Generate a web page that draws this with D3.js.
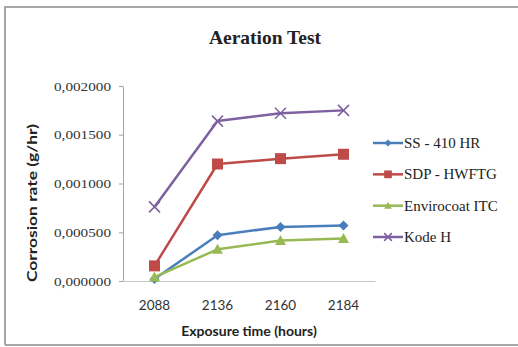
<!DOCTYPE html>
<html>
<head>
<meta charset="utf-8">
<script src="https://cdn.jsdelivr.net/npm/d3@7/dist/d3.min.js"></script>
<style>
  html, body { margin: 0; padding: 0; background: #fff; }
  svg { display: block; }
</style>
</head>
<body>
<svg id="chart" width="518" height="347"></svg>
<script>
// Exposure times (hours)
const categories = ["2088", "2136", "2160", "2184"];
// Corrosion rate (g/hr) per coating
const ssValues = [0.000020, 0.000470, 0.000555, 0.000570];
const sdpValues = [0.000155, 0.001200, 0.001255, 0.001300];
const envValues = [0.000040, 0.000325, 0.000415, 0.000435];
const kodeValues = [0.000760, 0.001640, 0.001720, 0.001750];
const seriesNames = ["SS - 410 HR", "SDP - HWFTG", "Envirocoat ITC", "Kode H"];
const yTicks = [0, 0.0005, 0.001, 0.0015, 0.002];

const series = [
  { name: seriesNames[0], values: ssValues, color: "#4A7EBB", marker: "diamond" },
  { name: seriesNames[1], values: sdpValues, color: "#BE4B48", marker: "square" },
  { name: seriesNames[2], values: envValues, color: "#98B954", marker: "triangle" },
  { name: seriesNames[3], values: kodeValues, color: "#7D60A0", marker: "cross" }
];

const serif = "Liberation Serif, Times New Roman, serif";
const sans = "Lato, Open Sans, sans-serif";

const svg = d3.select("#chart");

// outer frame
svg.append("path")
  .attr("d", "M5,345 L5,7 L518,7 M5,345 L518,345")
  .attr("fill", "none").attr("stroke", "#a6a6a6").attr("stroke-width", 2);

const plot = { left: 123, right: 375, top: 86, bottom: 281 };

const x = d3.scaleBand().domain(categories).range([plot.left, plot.right]);
const y = d3.scaleLinear().domain([0, 0.002]).range([plot.bottom, plot.top]);

// title
svg.append("text")
  .attr("x", 265).attr("y", 44)
  .attr("text-anchor", "middle")
  .attr("font-family", serif)
  .attr("font-weight", "bold").attr("font-size", 19.5)
  .attr("fill", "#222")
  .text("Aeration Test");

// y axis
const fmt = v => d3.format(".6f")(v).replace(".", ",");
const yAxis = svg.append("g")
  .attr("transform", `translate(${plot.left},0)`)
  .call(d3.axisLeft(y).tickValues(yTicks).tickFormat(fmt).tickSize(4).tickSizeOuter(0));
yAxis.select(".domain").attr("stroke", "#a6a6a6");
yAxis.selectAll(".tick line").attr("stroke", "#a6a6a6");
yAxis.selectAll(".tick text")
  .attr("x", -12)
  .attr("font-family", serif)
  .attr("font-size", 12.5).attr("fill", "#333")
  .attr("textLength", 57).attr("lengthAdjust", "spacingAndGlyphs");

// x axis
const xAxis = svg.append("g")
  .attr("transform", `translate(0,${plot.bottom})`)
  .call(d3.axisBottom(x).tickSize(0).tickSizeOuter(0));
xAxis.select(".domain").attr("stroke", "#c8c8c8");
xAxis.selectAll(".tick text")
  .attr("dy", 0).attr("y", 29)
  .attr("font-family", sans)
  .attr("font-size", 13.5).attr("fill", "#333");

// axis titles
svg.append("text")
  .attr("transform", "translate(37,203) rotate(-90)")
  .attr("text-anchor", "middle")
  .attr("font-family", sans)
  .attr("font-weight", "bold").attr("font-size", 14)
  .attr("fill", "#222")
  .attr("textLength", 158).attr("lengthAdjust", "spacingAndGlyphs")
  .text("Corrosion rate (g/hr)");

svg.append("text")
  .attr("x", 249).attr("y", 336)
  .attr("text-anchor", "middle")
  .attr("font-family", sans)
  .attr("font-weight", "bold").attr("font-size", 14)
  .attr("fill", "#222")
  .text("Exposure time (hours)");

function drawMarker(g, type, color, s) {
  if (type === "diamond") {
    g.append("path").attr("d", `M0,${-s} L${s},0 L0,${s} L${-s},0 Z`).attr("fill", color);
  } else if (type === "square") {
    g.append("rect").attr("x", -s).attr("y", -s).attr("width", 2 * s).attr("height", 2 * s).attr("fill", color);
  } else if (type === "triangle") {
    g.append("path").attr("d", `M0,${-s} L${s},${s * 0.8} L${-s},${s * 0.8} Z`).attr("fill", color);
  } else {
    g.append("path").attr("d", `M${-s},${-s} L${s},${s} M${-s},${s} L${s},${-s}`)
      .attr("stroke", color).attr("stroke-width", 1.5);
  }
}

const markerSize = { diamond: 5, square: 5.5, triangle: 5.5, cross: 5.5 };
const line = d3.line()
  .x((d, i) => x(categories[i]) + x.bandwidth() / 2)
  .y(d => y(d));

series.forEach(s => {
  svg.append("path")
    .datum(s.values)
    .attr("d", line)
    .attr("fill", "none")
    .attr("stroke", s.color)
    .attr("stroke-width", 2.5)
    .attr("stroke-linejoin", "round");
  s.values.forEach((v, i) => {
    const g = svg.append("g")
      .attr("transform", `translate(${x(categories[i]) + x.bandwidth() / 2},${y(v)})`);
    drawMarker(g, s.marker, s.color, markerSize[s.marker]);
  });
});

// legend
const legend = svg.append("g");
const legendY = d3.scalePoint().domain(seriesNames).range([143, 237]);
series.forEach(s => {
  const ly = legendY(s.name);
  legend.append("line")
    .attr("x1", 373).attr("x2", 403).attr("y1", ly).attr("y2", ly)
    .attr("stroke", s.color).attr("stroke-width", 2.5);
  const g = legend.append("g").attr("transform", `translate(388,${ly})`);
  drawMarker(g, s.marker, s.color, markerSize[s.marker] * 0.7);
  legend.append("text")
    .attr("x", 404).attr("y", ly + 5)
    .attr("font-family", serif)
    .attr("font-size", 15).attr("fill", "#222")
    .text(s.name);
});
</script>
</body>
</html>
